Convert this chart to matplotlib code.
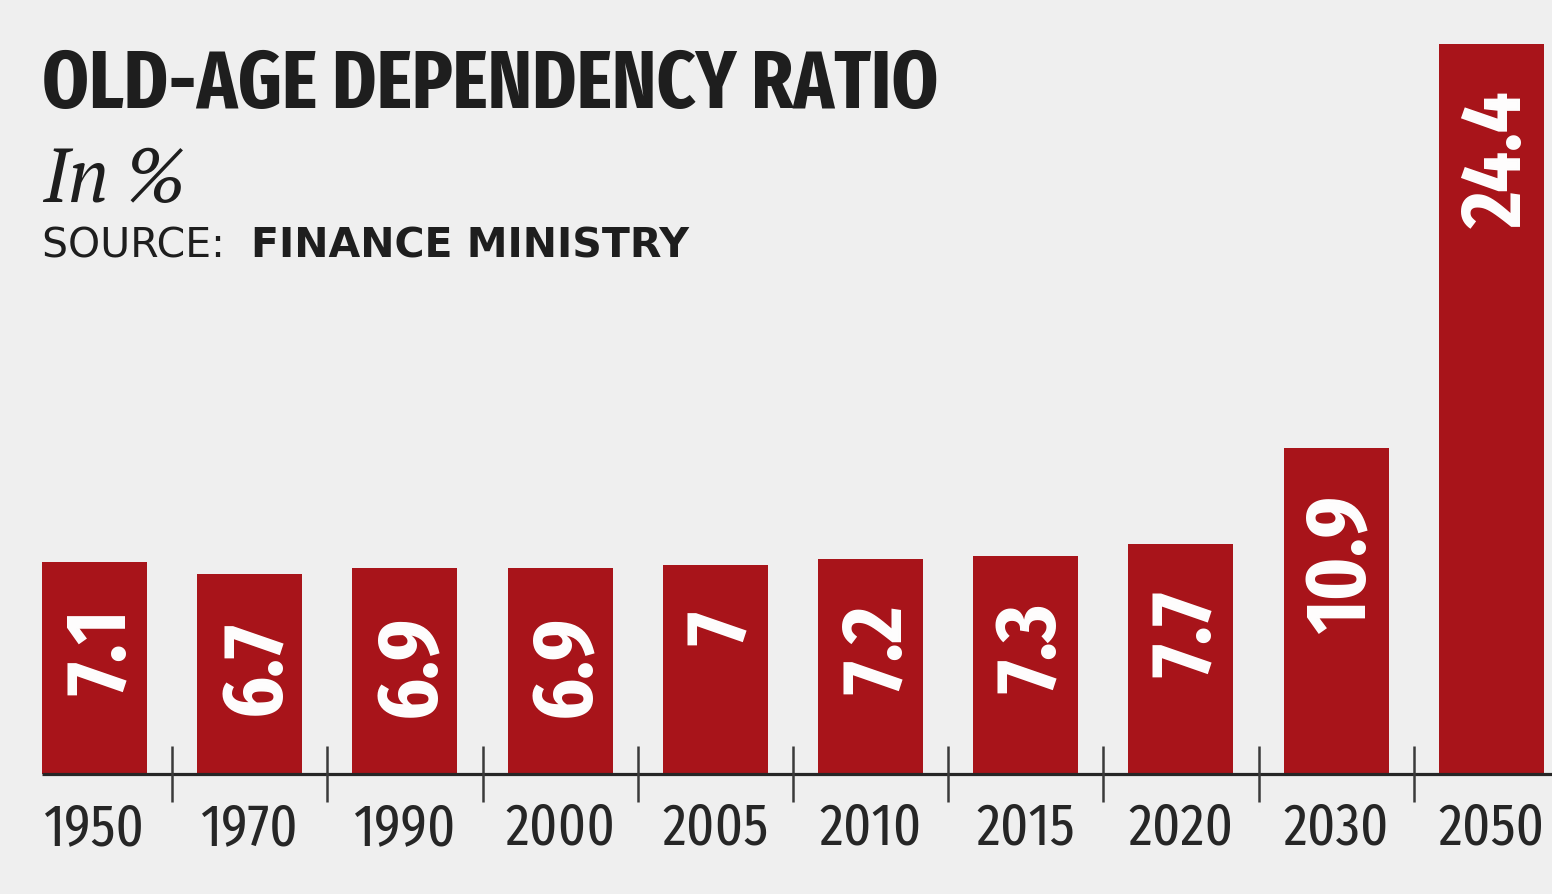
import matplotlib
matplotlib.use("Agg")
import matplotlib.pyplot as plt
from matplotlib import font_manager as fm
from matplotlib.transforms import offset_copy

years = ["1950", "1970", "1990", "2000", "2005", "2010", "2015", "2020", "2030", "2050"]
values = [7.1, 6.7, 6.9, 6.9, 7.0, 7.2, 7.3, 7.7, 10.9, 24.4]
value_labels = ["7.1", "6.7", "6.9", "6.9", "7", "7.2", "7.3", "7.7", "10.9", "24.4"]

avail = {f.name for f in fm.fontManager.ttflist}


def pick(cands, default="DejaVu Sans"):
    for c in cands:
        if c in avail:
            return c
    return default


COND = pick(["Fira Sans Extra Condensed", "Fira Sans Condensed", "PT Sans Narrow",
             "Barlow Condensed", "Roboto Condensed", "Archivo Narrow"])
SERIF = pick(["PT Serif", "Liberation Serif", "DejaVu Serif"])
SANS = pick(["DejaVu Sans"])

BG = "#efefef"
RED = "#a8141a"
DARK = "#262626"

W, H = 1552, 895
fig = plt.figure(figsize=(W / 100, H / 100), dpi=100)
fig.patch.set_facecolor(BG)
ax = fig.add_axes([0, 0, 1, 1])
ax.set_facecolor(BG)

# layout in pixels: bar centers at 94.5 + 155.2*i, baseline at y=775 (from top)
step = 155.2
x0 = 94.5
pxu = 730 / 24.4  # pixels per unit
base_from_bottom = H - 775
ax.set_xlim(-x0 / step, (W - x0) / step)
ax.set_ylim(-base_from_bottom / pxu, (H - base_from_bottom) / pxu)
ax.axis("off")

xs = list(range(len(years)))
bw = 105 / step
ax.bar(xs, values, width=bw, color=RED, zorder=2)

# axis line
ax.plot([-bw / 2, (W - x0) / step], [0, 0], color=DARK, lw=2.3, zorder=3,
        solid_capstyle="butt")
# separator ticks
tick_half = 28 / pxu
ax.vlines([i + 0.5 for i in range(len(years) - 1)], -tick_half, tick_half,
          color="#3a3a3a", lw=1.8, zorder=3)

# value labels (rotated, white, near top of bar)
for x, v, lab in zip(xs, values, value_labels):
    tr = offset_copy(ax.transData, fig=fig, x=30, y=-46, units="dots")
    ax.text(x, v, lab, transform=tr, rotation=90, rotation_mode="anchor",
            ha="right", va="baseline", color="white", fontsize=62,
            family=COND, fontweight="bold", zorder=4)

# year labels
for x, y in zip(xs, years):
    tr = offset_copy(ax.transData, fig=fig, x=0, y=-70, units="dots")
    ax.text(x, 0, y, transform=tr, ha="center", va="baseline", color=DARK,
            fontsize=42.5, family=COND, zorder=4)

# titles
fig.text(42 / W, 1 - 108 / H, "OLD-AGE DEPENDENCY RATIO", ha="left", va="baseline",
         fontsize=58.5, family=COND, fontweight="bold", color="#1e1e1e")
fig.text(42 / W, 1 - 202 / H, "In %", ha="left", va="baseline",
         fontsize=54, family=SERIF, style="italic", color="#1e1e1e")
t1 = fig.text(42 / W, 1 - 257 / H, "SOURCE:  ", ha="left", va="baseline",
              fontsize=29.5, family=SANS, color="#1e1e1e")
fig.canvas.draw()
bb = t1.get_window_extent()
fig.text(bb.x1 / W, 1 - 257 / H, "FINANCE MINISTRY", ha="left", va="baseline",
         fontsize=29.5, family=SANS, fontweight="bold", color="#1e1e1e")

fig.savefig("out.png", dpi=100, facecolor=BG)
